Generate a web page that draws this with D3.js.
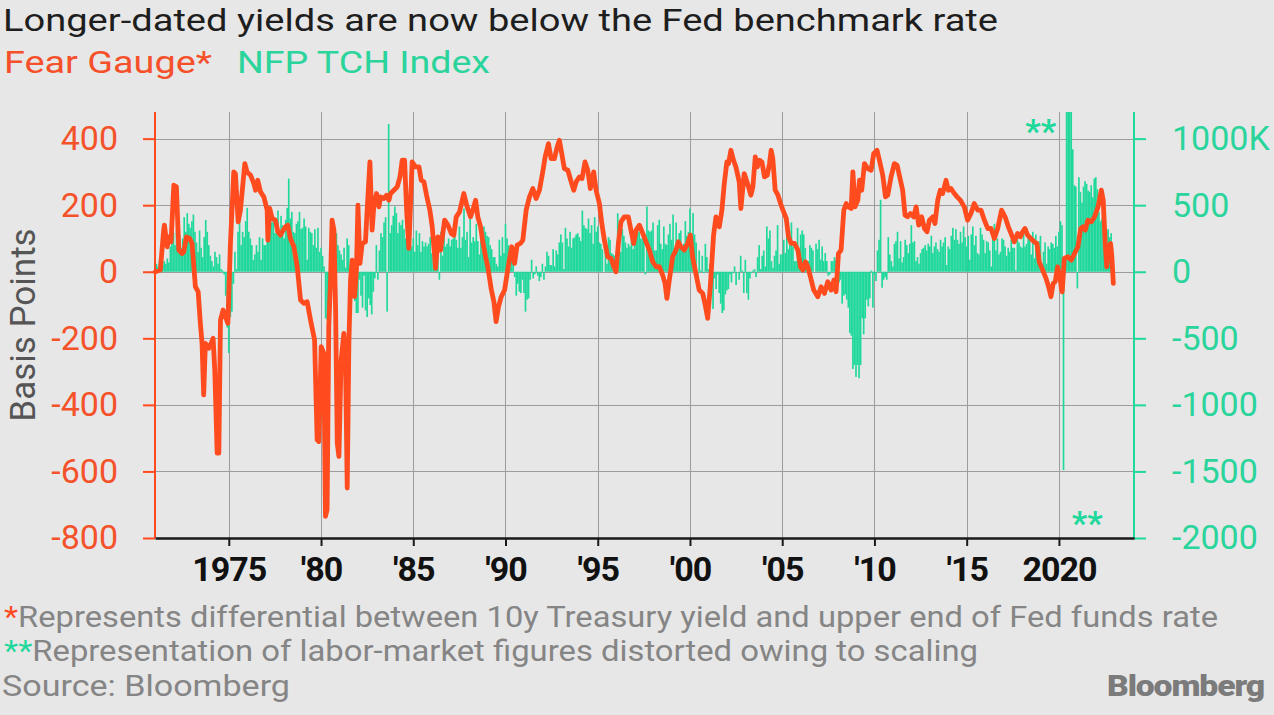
<!DOCTYPE html>
<html>
<head>
<meta charset="utf-8">
<style>
body { margin: 0; background: #e7e7e7; }
svg { display: block; }
text { font-family: Roboto, "Noto Sans", sans-serif; }
</style>
</head>
<body>
<svg id="chart" width="1274" height="715"></svg>
<script src="https://cdn.jsdelivr.net/npm/d3@7/dist/d3.min.js"></script>
<script>
// monthly NFP change, thousands, Jan 1971 onwards (as drawn: 2020 spikes clipped)
const nfpStart = 1971;
const nfp1970s = [
  30, 60, 40, 90, 110, 50, 80, 60, 100, 70, 190, 230,
  290, 200, 310, 240, 270, 180, 250, 410, 300, 440, 360, 330,
  380, 430, 300, 220, 150, 310, 180, 110, 260, 390, 300, 200,
  120, 80, 40, 150, 110, 60, 130, 20, 10, -20, -180, -420,
  -610, -340, -300, -90, 150, 20, 300, 490, 200, 300, 260, 380,
  480, 300, 250, 200, 90, 130, 200, 150, 260, 90, 250, 200,
  200, 290, 430, 390, 370, 400, 290, 320, 460, 300, 420, 350,
  250, 390, 480, 700, 400, 450, 300, 290, 360, 380, 450, 320,
  330, 400, 340, 90, 330, 300, 290, 200, 320, 180, 330, 150
];
const nfp1980s = [
  180, 120, 40, -350, -360, -300, -150, 240, 150, 250, 290, 200,
  160, 130, 90, 180, 30, 250, 200, 40, -80, -200, -220, -310,
  -310, -60, -180, -270, -30, -290, -340, -200, -250, -320, -150, -50,
  200, -60, 160, 290, 260, 370, 410, -300, 1110, 290, 350, 420,
  490, 440, 290, 370, 350, 390, 320, 250, 330, 290, 340, 190,
  250, 150, 310, 200, 290, 150, 230, 190, 220, 190, 210, 260,
  140, 110, 90, 170, 130, -60, 300, 120, 310, 190, 210, 250,
  190, 240, 250, 330, 240, 180, 340, 180, 260, 475, 240, 300,
  110, 440, 220, 260, 230, 360, 230, 130, 350, 260, 340, 300,
  270, 260, 200, 170, 110, 110, 60, 40, 240, 120, 260, 140
];
const nfp1990s = [
  360, 250, 200, 30, 150, 60, -40, -180, -90, -150, -160, -60,
  -160, -300, -210, -200, -60, 90, -50, -20, 40, -30, -70, -40,
  60, -60, 40, 150, 120, 50, 50, 170, 40, 160, 130, 220,
  280, 220, 20, 330, 250, 190, 300, 180, 250, 260, 280, 290,
  260, 230, 460, 350, 330, 320, 400, 290, 350, 210, 410, 300,
  340, 220, 210, 170, 0, 250, 60, 260, 240, 140, 130, 120,
  -10, 440, 270, 150, 320, 270, 220, 180, 210, 190, 250, 170,
  230, 280, 320, 300, 250, 250, 280, -20, 490, 310, 300, 310,
  370, 160, 160, 350, 390, 210, 170, 340, 210, 200, 280, 360,
  240, 430, 110, 370, 180, 290, 310, 160, 210, 380, 270, 300
];
const nfp2000s = [
  475, 130, 440, 280, 220, -50, 160, 10, 120, -10, 210, 110,
  20, 60, -30, -280, -50, -130, -20, -160, -240, -310, -290, -170,
  -140, -130, -20, -80, -10, 40, -100, 0, -60, 120, 10, -160,
  90, -160, -210, -50, -10, 10, 20, -40, 110, 200, 20, 120,
  160, 40, 340, 250, 310, 80, 30, 120, 160, 350, 60, 130,
  130, 240, 140, 360, 170, 250, 370, 190, 80, 80, 330, 160,
  280, 310, 280, 180, 20, 80, 200, 180, 160, 0, 210, 170,
  240, 90, 190, 80, 140, 80, -30, -20, 80, 80, 110, 90,
  20, -80, -60, -240, -180, -170, -210, -270, -460, -480, -730, -700,
  -790, -700, -800, -700, -350, -470, -350, -210, -260, -200, 10, -270
];
const nfp2010s = [
  -20, -70, 160, 240, 540, -120, -60, -40, -60, 260, 130, 80,
  40, 210, 230, 300, 100, 230, 70, 110, 240, 200, 140, 210,
  350, 220, 230, 80, 110, 60, 140, 170, 180, 200, 160, 210,
  190, 270, 140, 190, 220, 170, 150, 240, 190, 220, 260, 50,
  190, 170, 270, 330, 240, 320, 240, 210, 300, 220, 340, 260,
  190, 270, 90, 280, 340, 200, 270, 140, 130, 330, 280, 240,
  140, 230, 220, 160, 40, 300, 360, 160, 250, 130, 150, 250,
  240, 190, 120, 180, 150, 240, 180, 180, 10, 260, 220, 190,
  180, 330, 190, 210, 280, 250, 130, 300, 100, 280, 180, 230,
  270, 10, 150, 220, 60, 190, 170, 220, 210, 180, 270, 190
];
const nfp2020s = [
  300, 380, 350, -1490, 0, 2700, 4800, 1700, 1500, 920, 650, 640,
  -125, 710, 600, 520, 640, 680, 660, 610, 600, 650, 560, 700,
  710, 620, 450, 380, 400, 330, 480, 300, 320, 260, 290
];

// fear gauge: [decimal year, basis points]
const fear1970s = [
  [1971.02, 0], [1971.29, 5], [1971.47, 125], [1971.51, 140], [1971.66, 75], [1971.75, 105],
  [1971.87, 90], [1972.02, 260], [1972.16, 255], [1972.29, 65], [1972.47, 55], [1972.56, 60],
  [1972.70, 105], [1972.88, 100], [1973.01, 85], [1973.19, -45], [1973.34, -60], [1973.46, -155],
  [1973.55, -215], [1973.64, -370], [1973.73, -215], [1973.92, -230], [1974.01, -220], [1974.15, -200],
  [1974.24, -295], [1974.37, -545], [1974.46, -545], [1974.55, -145], [1974.69, -115], [1974.82, -135],
  [1974.95, -155], [1975.09, 85], [1975.27, 300], [1975.36, 295], [1975.51, 150], [1975.63, 185],
  [1975.87, 325], [1975.99, 300], [1976.18, 290], [1976.36, 265], [1976.45, 245], [1976.57, 275],
  [1976.72, 240], [1976.90, 225], [1977.08, 185], [1977.12, 95], [1977.22, 190], [1977.35, 160],
  [1977.53, 155], [1977.66, 120], [1977.80, 110], [1977.95, 125], [1978.07, 135], [1978.20, 140],
  [1978.34, 100], [1978.53, 75], [1978.71, 15], [1978.89, -85], [1979.07, -95], [1979.25, -90],
  [1979.43, -145], [1979.65, -205], [1979.79, -505], [1979.88, -510]
];
const fear1980s = [
  [1980.01, -225], [1980.15, -245], [1980.24, -735], [1980.33, -715], [1980.42, -165], [1980.51, -35],
  [1980.60, 155], [1980.70, 125], [1980.79, -115], [1980.88, -515], [1980.97, -555], [1981.09, -265],
  [1981.24, -185], [1981.33, -275], [1981.42, -650], [1981.51, -215], [1981.60, -25], [1981.69, 35],
  [1981.82, -75], [1981.92, 5], [1982.00, 200], [1982.11, 25], [1982.23, 85], [1982.41, 90],
  [1982.50, 185], [1982.65, 330], [1982.77, 125], [1982.86, 195], [1983.01, 235], [1983.14, 195],
  [1983.23, 225], [1983.41, 220], [1983.55, 230], [1983.68, 215], [1983.77, 235], [1983.95, 245],
  [1984.13, 255], [1984.28, 285], [1984.40, 335], [1984.53, 335], [1984.64, 185], [1984.76, 70],
  [1984.94, 330], [1985.12, 315], [1985.31, 315], [1985.43, 275], [1985.58, 270], [1985.72, 230],
  [1985.90, 185], [1986.03, 135], [1986.21, 10], [1986.34, 105], [1986.48, 65], [1986.70, 155],
  [1986.88, 140], [1987.06, 115], [1987.20, 110], [1987.33, 165], [1987.51, 180], [1987.74, 235],
  [1987.92, 195], [1988.10, 165], [1988.23, 185], [1988.38, 215], [1988.50, 165], [1988.65, 135],
  [1988.77, 90], [1988.92, 45], [1989.04, 15], [1989.22, -50], [1989.37, -90], [1989.49, -150],
  [1989.62, -105], [1989.77, -75], [1989.95, -55]
];
const fear1990s = [
  [1990.09, -5], [1990.22, 40], [1990.34, 75], [1990.49, 25], [1990.63, 80], [1990.81, 85],
  [1990.94, 95], [1991.12, 185], [1991.30, 225], [1991.48, 250], [1991.66, 220], [1991.84, 245],
  [1992.02, 300], [1992.15, 345], [1992.33, 385], [1992.47, 340], [1992.65, 340], [1992.80, 375],
  [1992.92, 395], [1993.05, 355], [1993.19, 310], [1993.38, 305], [1993.56, 270], [1993.70, 245],
  [1993.83, 270], [1994.01, 285], [1994.15, 280], [1994.31, 330], [1994.46, 305], [1994.60, 250],
  [1994.78, 300], [1994.91, 245], [1995.09, 205], [1995.22, 145], [1995.36, 95], [1995.54, 45],
  [1995.72, 40], [1995.87, 15], [1995.99, 0], [1996.12, 85], [1996.26, 150], [1996.44, 165],
  [1996.66, 165], [1996.80, 125], [1996.95, 85], [1997.08, 125], [1997.26, 140], [1997.44, 115],
  [1997.62, 90], [1997.80, 65], [1997.98, 30], [1998.16, 15], [1998.34, 15], [1998.52, -10],
  [1998.65, -35], [1998.75, -80], [1998.88, -25], [1999.06, 45], [1999.24, 65], [1999.37, 90],
  [1999.51, 75], [1999.69, 65], [1999.87, 85]
];
const fear2000s = [
  [2000.02, 110], [2000.14, 45], [2000.32, -5], [2000.50, -55], [2000.69, -65], [2000.81, -95],
  [2000.96, -140], [2001.10, -45], [2001.28, 110], [2001.41, 165], [2001.59, 135], [2001.73, 185],
  [2001.86, 265], [2002.00, 330], [2002.09, 325], [2002.22, 365], [2002.36, 335], [2002.49, 315],
  [2002.67, 270], [2002.76, 190], [2002.94, 295], [2003.12, 265], [2003.30, 230], [2003.41, 255],
  [2003.54, 345], [2003.65, 315], [2003.77, 335], [2003.90, 330], [2004.04, 285], [2004.19, 290],
  [2004.31, 325], [2004.40, 365], [2004.49, 340], [2004.62, 245], [2004.77, 230], [2004.91, 205],
  [2005.04, 185], [2005.22, 160], [2005.34, 105], [2005.49, 85], [2005.67, 85], [2005.85, 65],
  [2005.99, 15], [2006.12, 5], [2006.26, 30], [2006.39, 15], [2006.53, -15], [2006.71, -55],
  [2006.93, -75], [2007.11, -45], [2007.29, -65], [2007.47, -30], [2007.65, -55], [2007.80, -25],
  [2007.92, -60], [2008.05, 55], [2008.19, 65], [2008.34, 185], [2008.47, 205], [2008.59, 195],
  [2008.74, 190], [2008.83, 300], [2008.95, 195], [2009.10, 215], [2009.19, 275], [2009.31, 245],
  [2009.46, 325], [2009.64, 310], [2009.82, 305], [2009.96, 355]
];
const fear2010s = [
  [2010.14, 365], [2010.27, 335], [2010.45, 290], [2010.60, 225], [2010.72, 230], [2010.90, 285],
  [2011.08, 325], [2011.23, 320], [2011.35, 290], [2011.53, 245], [2011.66, 170], [2011.80, 165],
  [2011.95, 175], [2012.13, 165], [2012.26, 195], [2012.40, 140], [2012.56, 165], [2012.71, 130],
  [2012.85, 120], [2012.98, 155], [2013.16, 165], [2013.28, 145], [2013.43, 215], [2013.57, 245],
  [2013.70, 235], [2013.88, 275], [2014.01, 245], [2014.15, 250], [2014.33, 235], [2014.48, 225],
  [2014.66, 215], [2014.87, 195], [2015.05, 155], [2015.23, 175], [2015.41, 205], [2015.60, 185],
  [2015.78, 185], [2015.96, 155], [2016.14, 130], [2016.32, 130], [2016.50, 100], [2016.68, 130],
  [2016.89, 185], [2017.08, 165], [2017.26, 135], [2017.44, 110], [2017.58, 90], [2017.76, 115],
  [2017.91, 105], [2018.03, 120], [2018.16, 130], [2018.30, 110], [2018.48, 100], [2018.66, 90],
  [2018.81, 85], [2018.93, 30], [2019.12, 5], [2019.30, -20], [2019.44, -45], [2019.57, -75],
  [2019.69, -35], [2019.80, -30], [2019.93, 15]
];
const fear2020s = [
  [2020.07, -20], [2020.14, -55], [2020.18, -60], [2020.29, 40], [2020.49, 45], [2020.67, 35],
  [2020.85, 55], [2021.03, 75], [2021.18, 130], [2021.30, 135], [2021.43, 125], [2021.57, 155],
  [2021.75, 150], [2021.93, 165], [2022.12, 195], [2022.30, 245], [2022.40, 215], [2022.51, 85],
  [2022.59, 15], [2022.69, 75], [2022.80, 85], [2022.87, 45], [2022.95, -35]
];

const xTicks = [1975, 1980, 1985, 1990, 1995, 2000, 2005, 2010, 2015, 2020];
const xTickLabels = ["1975", "'80", "'85", "'90", "'95", "'00", "'05", "'10", "'15", "2020"];
const leftTicks = [-800, -600, -400, -200, 0, 200, 400];
const rightTicks = [-2000, -1500, -1000, -500, 0, 500, 1000];

const ORANGE = "#ff4b1e";
const GREEN = "#1fd89b";

const svg = d3.select("#chart");
const plotLeft = 155, plotRight = 1134, plotTop = 112, plotBottom = 538;

const x = d3.scaleLinear().domain([1971.0, 2024.07]).range([plotLeft, plotRight]);
const yL = d3.scaleLinear().domain([-800, 480]).range([plotBottom, plotTop]);
const yR = d3.scaleLinear().domain([-2000, 1200]).range([plotBottom, plotTop]);

svg.append("rect").attr("width", 1274).attr("height", 715).attr("fill", "#e7e7e7");

// headline + legend
svg.append("text").attr("x", 3).attr("y", 31).attr("font-size", 32).attr("fill", "#1e1e1e")
  .attr("textLength", 995).attr("lengthAdjust", "spacingAndGlyphs")
  .text("Longer-dated yields are now below the Fed benchmark rate");
svg.append("text").attr("x", 4).attr("y", 73).attr("font-size", 31).attr("fill", "#f5502a")
  .attr("textLength", 208).attr("lengthAdjust", "spacingAndGlyphs")
  .text("Fear Gauge*");
svg.append("text").attr("x", 237).attr("y", 73).attr("font-size", 31).attr("fill", "#2ad49b")
  .attr("textLength", 253).attr("lengthAdjust", "spacingAndGlyphs")
  .text("NFP TCH Index");

// grid
const grid = svg.append("g").attr("stroke", "#9c9c9c").attr("stroke-width", 1);
grid.selectAll("line.h").data(leftTicks.filter(d => d > -800)).enter().append("line")
  .attr("x1", plotLeft).attr("x2", plotRight)
  .attr("y1", d => Math.round(yL(d)) + 0.5).attr("y2", d => Math.round(yL(d)) + 0.5);
grid.selectAll("line.v").data(xTicks).enter().append("line")
  .attr("y1", plotTop).attr("y2", plotBottom)
  .attr("x1", d => Math.round(x(d)) + 0.5).attr("x2", d => Math.round(x(d)) + 0.5);

// bars
svg.append("clipPath").attr("id", "plot-clip").append("rect")
  .attr("x", plotLeft).attr("y", plotTop).attr("width", plotRight - plotLeft).attr("height", plotBottom - plotTop);

const nfp = [].concat(nfp1970s, nfp1980s, nfp1990s, nfp2000s, nfp2010s, nfp2020s)
  .map((v, i) => ({ t: nfpStart + i / 12, v: v }));
const barW = (x(2000 + 1 / 12) - x(2000)) * 1.08;

svg.append("g").attr("clip-path", "url(#plot-clip)")
  .selectAll("rect").data(nfp).enter().append("rect")
  .attr("x", d => x(d.t) - barW / 2)
  .attr("width", barW)
  .attr("y", d => Math.min(yR(d.v), yR(0)))
  .attr("height", d => Math.abs(yR(d.v) - yR(0)))
  .attr("fill", GREEN);

// fear gauge line
const fear = [].concat(fear1970s, fear1980s, fear1990s, fear2000s, fear2010s, fear2020s);
const line = d3.line().x(d => x(d[0])).y(d => yL(d[1]));
svg.append("path").datum(fear)
  .attr("d", line)
  .attr("fill", "none")
  .attr("stroke", ORANGE)
  .attr("stroke-width", 4.8)
  .attr("stroke-linejoin", "round")
  .attr("stroke-linecap", "round");

// axes
const axL = svg.append("g").attr("transform", `translate(${plotLeft},0)`)
  .call(d3.axisLeft(yL).tickValues(leftTicks).tickSize(12).tickSizeOuter(0).tickPadding(25)
    .tickFormat(d => String(d)));
axL.select(".domain").attr("stroke", ORANGE).attr("stroke-width", 2)
  .attr("d", `M0,${plotTop}V${plotBottom}`);
axL.selectAll(".tick line").attr("stroke", ORANGE).attr("stroke-width", 2);
axL.selectAll(".tick text").attr("fill", "#f4522a").attr("font-size", 34)
  .attr("font-family", "Roboto, sans-serif");

const axR = svg.append("g").attr("transform", `translate(${plotRight},0)`)
  .call(d3.axisRight(yR).tickValues(rightTicks).tickSize(12).tickSizeOuter(0).tickPadding(26)
    .tickFormat(d => d === 1000 ? "1000K" : String(d)));
axR.select(".domain").attr("stroke", GREEN).attr("stroke-width", 2)
  .attr("d", `M0,${plotTop}V${plotBottom}`);
axR.selectAll(".tick line").attr("stroke", GREEN).attr("stroke-width", 2);
axR.selectAll(".tick text").attr("fill", "#2ad49b").attr("font-size", 34)
  .attr("font-family", "Roboto, sans-serif");

const axB = svg.append("g").attr("transform", `translate(0,${plotBottom})`)
  .call(d3.axisBottom(x).tickValues(xTicks).tickSize(8).tickSizeOuter(0).tickPadding(11)
    .tickFormat((d, i) => xTickLabels[i]));
axB.select(".domain").attr("stroke", "#1a1a1a").attr("stroke-width", 2.5);
axB.selectAll(".tick line").attr("stroke", "#1a1a1a").attr("stroke-width", 2);
axB.selectAll(".tick text").attr("fill", "#111").attr("font-size", 34).attr("font-weight", 700)
  .attr("letter-spacing", -1).attr("font-family", "Roboto, sans-serif");

// y title
svg.append("text")
  .attr("transform", `translate(35,${(plotTop + plotBottom) / 2}) rotate(-90)`)
  .attr("text-anchor", "middle").attr("font-size", 35).attr("fill", "#555")
  .text("Basis Points");

// distortion markers
svg.append("text").attr("x", x(2019.85)).attr("y", 143).attr("text-anchor", "end")
  .attr("font-size", 34).attr("font-weight", 700).attr("fill", GREEN).text("**");
svg.append("text").attr("x", x(2020.7)).attr("y", 535)
  .attr("font-size", 34).attr("font-weight", 700).attr("fill", GREEN).text("**");

// footnotes
const note1 = svg.append("text").attr("x", 4).attr("y", 627).attr("font-size", 29).attr("fill", "#858585")
  .attr("textLength", 1214).attr("lengthAdjust", "spacingAndGlyphs");
note1.append("tspan").attr("fill", ORANGE).text("*");
note1.append("tspan").text("Represents differential between 10y Treasury yield and upper end of Fed funds rate");

const note2 = svg.append("text").attr("x", 4).attr("y", 661).attr("font-size", 29).attr("fill", "#858585")
  .attr("textLength", 974).attr("lengthAdjust", "spacingAndGlyphs");
note2.append("tspan").attr("fill", GREEN).text("**");
note2.append("tspan").text("Representation of labor-market figures distorted owing to scaling");

svg.append("text").attr("x", 2).attr("y", 696).attr("font-size", 29).attr("fill", "#858585")
  .attr("textLength", 288).attr("lengthAdjust", "spacingAndGlyphs")
  .text("Source: Bloomberg");

svg.append("text").attr("x", 1264).attr("y", 696).attr("text-anchor", "end")
  .attr("font-size", 30).attr("font-weight", 900).attr("fill", "#7b7b7b")
  .attr("textLength", 157).attr("lengthAdjust", "spacingAndGlyphs")
  .attr("letter-spacing", -1)
  .text("Bloomberg");
</script>
</body>
</html>
